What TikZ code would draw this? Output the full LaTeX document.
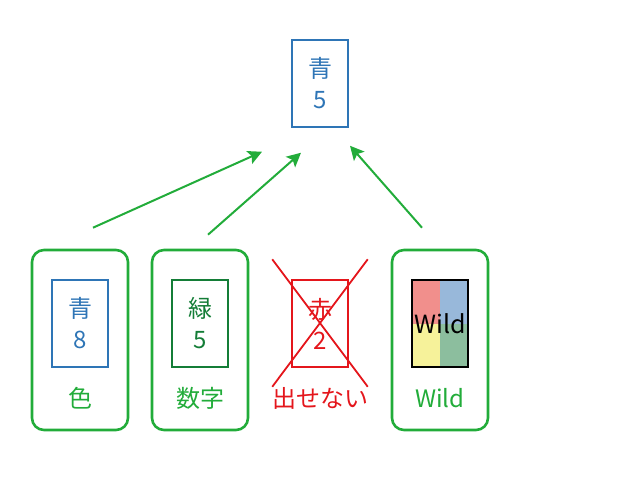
\documentclass[tikz,border=0pt]{standalone}
\usepackage{fontspec}
\setmainfont{Noto Sans CJK JP}
\usepackage{tikz}
\usetikzlibrary{arrows.meta, positioning, calc, backgrounds}
\definecolor{cardblue}{RGB}{46,117,182}
\definecolor{cardgreen}{RGB}{20,125,55}
\definecolor{cardred}{RGB}{228,22,28}
\definecolor{okgreen}{RGB}{34,172,58}
\definecolor{wildred}{RGB}{241,143,140}
\definecolor{wildblue}{RGB}{152,184,218}
\definecolor{wildyellow}{RGB}{246,242,154}
\definecolor{wildgreen}{RGB}{140,190,158}

\begin{document}
\begin{tikzpicture}[
    x=1pt, y=-1pt,
    card/.style={draw, line width=1.5pt, minimum width=56pt, minimum height=87pt, inner sep=0pt, align=center, font=\fontsize{24}{31}\selectfont},
    slot/.style={draw=okgreen, line width=2.6pt, rounded corners=12pt, minimum width=96pt, minimum height=180pt},
    lbl/.style={font=\fontsize{24}{28}\selectfont},
    arrow/.style={-{Stealth[length=14pt, width=14pt, inset=3pt]}, line width=2pt, draw=okgreen}
]
    \useasboundingbox (0,0) rectangle (640,480);

    % Played card
    \node[card, draw=cardblue, text=cardblue] (top) at (320,83.5) {青\\5};

    % Hand slots
    \node[slot] (colorslot) at (80,340) {};
    \node[slot] (numslot) at (200,340) {};
    \node[slot] (wildslot) at (440,340) {};

    % Cards in hand
    \node[card, draw=cardblue, text=cardblue] (bluecard) at (80,323.5) {青\\8};
    \node[card, draw=cardgreen, text=cardgreen] (greencard) at (200,323.5) {緑\\5};
    \node[card, draw=cardred, text=cardred] (redcard) at (320,323.5) {赤\\2};
    \node[card, draw=black, line width=1.2pt, font=\fontsize{25}{28}\selectfont] (wildcard) at (440,323.5) {Wild};
    \begin{scope}[on background layer]
        \fill[wildred] (wildcard.north west) rectangle (wildcard.center);
        \fill[wildblue] (wildcard.north east) rectangle (wildcard.center);
        \fill[wildyellow] (wildcard.south west) rectangle (wildcard.center);
        \fill[wildgreen] (wildcard.south east) rectangle (wildcard.center);
    \end{scope}

    % Cross over the red card
    \draw[cardred, line width=1.8pt] ($(redcard.north west)+(-19,-20)$) -- ($(redcard.south east)+(19,19)$);
    \draw[cardred, line width=1.8pt] ($(redcard.north east)+(19,-20)$) -- ($(redcard.south west)+(-19,19)$);

    % Labels
    \node[lbl, text=okgreen] (colorlbl) at (80,398) {色};
    \node[lbl, text=okgreen] (numlbl) at (200,398) {数字};
    \node[lbl, text=cardred] (nglbl) at (320,398) {出せない};
    \node[lbl, text=okgreen] (wildlbl) at (440,398) {Wild};

    % Arrows
    \draw[arrow] ($(colorslot.north)+(13,-21)$) -- ($(top.south)+(-58,24)$);
    \draw[arrow] ($(numslot.north)+(8,-14)$) -- ($(top.south)+(-19,25)$);
    \draw[arrow] ($(wildslot.north)+(-18,-21)$) -- ($(top.south)+(30,18)$);
\end{tikzpicture}
\end{document}
